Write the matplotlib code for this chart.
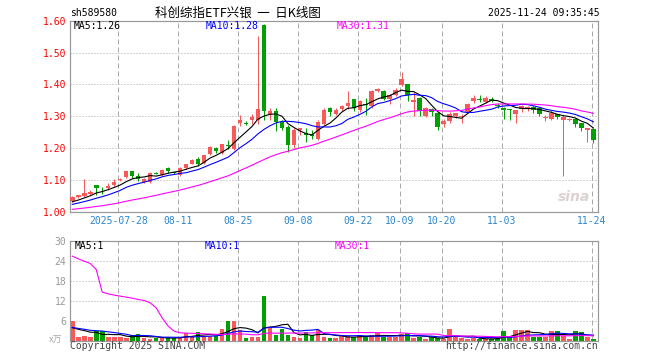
import numpy as np
import matplotlib
matplotlib.use('Agg')
import matplotlib.pyplot as plt

# ---------------- data ----------------
opens = [1.033, 1.046, 1.050, 1.055, 1.084, 1.070, 1.075, 1.084, 1.100, 1.110,
         1.128, 1.112, 1.094, 1.094, 1.122, 1.115, 1.138, 1.124, 1.116, 1.138,
         1.152, 1.165, 1.154, 1.183, 1.202, 1.185, 1.210, 1.199, 1.280, 1.278,
         1.290, 1.288, 1.588, 1.306, 1.317, 1.282, 1.267, 1.209, 1.256, 1.248,
         1.246, 1.230, 1.277, 1.327, 1.308, 1.324, 1.334, 1.353, 1.319, 1.338,
         1.331, 1.379, 1.379, 1.355, 1.366, 1.399, 1.400, 1.345, 1.357, 1.301,
         1.322, 1.312, 1.275, 1.284, 1.300, 1.297, 1.313, 1.348, 1.354, 1.345,
         1.355, 1.335, 1.326, 1.323, 1.306, 1.322, 1.322, 1.329, 1.326, 1.295,
         1.291, 1.306, 1.288, 1.289, 1.293, 1.279, 1.258, 1.259]
highs = [1.050, 1.054, 1.102, 1.068, 1.085, 1.079, 1.090, 1.102, 1.106, 1.128,
         1.130, 1.121, 1.108, 1.125, 1.124, 1.135, 1.142, 1.126, 1.140, 1.152,
         1.165, 1.172, 1.180, 1.206, 1.205, 1.214, 1.225, 1.272, 1.303, 1.284,
         1.308, 1.553, 1.590, 1.327, 1.327, 1.290, 1.272, 1.262, 1.265, 1.262,
         1.256, 1.290, 1.327, 1.330, 1.325, 1.336, 1.379, 1.355, 1.350, 1.357,
         1.383, 1.390, 1.384, 1.370, 1.390, 1.438, 1.402, 1.376, 1.360, 1.330,
         1.327, 1.315, 1.292, 1.315, 1.312, 1.308, 1.342, 1.366, 1.368, 1.363,
         1.362, 1.341, 1.328, 1.324, 1.320, 1.337, 1.332, 1.332, 1.330, 1.305,
         1.320, 1.308, 1.305, 1.294, 1.295, 1.280, 1.264, 1.260]
lows = [1.030, 1.044, 1.048, 1.052, 1.052, 1.056, 1.068, 1.078, 1.097, 1.108,
        1.108, 1.097, 1.090, 1.090, 1.118, 1.112, 1.121, 1.120, 1.112, 1.135,
        1.150, 1.145, 1.150, 1.180, 1.185, 1.183, 1.199, 1.195, 1.269, 1.272,
        1.277, 1.277, 1.288, 1.288, 1.253, 1.258, 1.188, 1.200, 1.242, 1.220,
        1.230, 1.226, 1.273, 1.300, 1.303, 1.318, 1.324, 1.316, 1.315, 1.303,
        1.327, 1.375, 1.350, 1.340, 1.363, 1.395, 1.348, 1.300, 1.300, 1.298,
        1.300, 1.258, 1.268, 1.280, 1.295, 1.280, 1.310, 1.343, 1.346, 1.343,
        1.344, 1.327, 1.293, 1.290, 1.279, 1.315, 1.318, 1.310, 1.300, 1.284,
        1.288, 1.292, 1.113, 1.284, 1.266, 1.253, 1.218, 1.216]
closes = [1.046, 1.052, 1.060, 1.064, 1.076, 1.068, 1.083, 1.094, 1.102, 1.128,
          1.112, 1.104, 1.104, 1.123, 1.120, 1.133, 1.128, 1.122, 1.137, 1.150,
          1.162, 1.152, 1.178, 1.204, 1.192, 1.212, 1.208, 1.269, 1.290, 1.276,
          1.298, 1.324, 1.317, 1.317, 1.282, 1.262, 1.209, 1.256, 1.263, 1.241,
          1.238, 1.282, 1.319, 1.313, 1.321, 1.332, 1.342, 1.326, 1.347, 1.336,
          1.378, 1.387, 1.355, 1.368, 1.384, 1.418, 1.366, 1.352, 1.317, 1.326,
          1.313, 1.267, 1.285, 1.308, 1.310, 1.301, 1.340, 1.357, 1.352, 1.357,
          1.348, 1.333, 1.319, 1.321, 1.319, 1.334, 1.329, 1.319, 1.306, 1.297,
          1.312, 1.298, 1.298, 1.291, 1.275, 1.263, 1.263, 1.225]
volumes = [6.0, 1.0, 1.5, 1.0, 3.0, 2.9, 1.2, 1.0, 1.0, 0.8,
           1.8, 2.0, 0.8, 0.4, 0.8, 0.8, 1.2, 0.8, 0.7, 2.3,
           1.5, 2.6, 1.5, 1.5, 1.5, 3.4, 5.8, 5.8, 3.2, 0.7,
           1.0, 1.0, 13.5, 4.2, 1.8, 3.4, 1.8, 1.0, 0.7, 2.6,
           1.8, 3.2, 1.2, 0.9, 0.7, 1.4, 1.4, 1.0, 1.4, 1.2,
           1.7, 2.4, 1.2, 1.2, 1.2, 2.0, 2.2, 0.7, 1.2, 0.5,
           1.0, 0.7, 0.4, 3.5, 1.4, 0.7, 0.5, 0.7, 0.5, 0.5,
           0.5, 0.7, 2.9, 1.4, 3.2, 3.2, 3.2, 1.2, 1.2, 1.0,
           2.9, 2.9, 1.4, 0.5, 2.9, 2.6, 1.0, 0.5]
# history before the visible window (implied by the moving-average lines)
pre_closes = [0.998, 0.996, 0.995, 0.997, 0.996, 0.997, 0.996, 0.998, 0.996, 0.997,
              1.000, 1.002, 1.001, 1.003, 1.004, 1.006, 1.007, 1.008, 1.009, 1.009,
              1.012, 1.014, 1.016, 1.018, 1.020, 1.025, 1.027, 1.030, 1.032]
pre_volumes = [25.0, 22.5, 22.0, 57.0, 207.0, 16.0, 13.0, 10.0, 9.8, 10.8,
               14.0, 9.8, 21.4, 45.8, 90.8, 76.2, 45.8, 15.7, 5.3, 3.0,
               4.1, 4.1, 4.1, 4.1, 4.1, 3.4, 3.4, 3.4, 3.3]
tick_idx = [8, 18, 28, 38, 48, 55, 62, 72, 87]
tick_labels = ['2025-07-28', '08-11', '08-25', '09-08', '09-22', '10-09', '10-20', '11-03', '11-24']
price_ticks = [1.00, 1.10, 1.20, 1.30, 1.40, 1.50, 1.60]
vol_ticks = [6, 12, 18, 24, 30]

# ---------------- styling ----------------
RED = '#f85a5a'
GREEN = '#00a000'
FRAME = '#999999'
GRID = '#aaaaaa'
DATEC = '#2a86d0'
MONO = 'DejaVu Sans Mono'
CJK = ['Noto Sans CJK SC', 'DejaVu Sans']
PX = 0.72

def moving_avg(pre, vals, n):
    full = np.array(pre + vals, dtype=float)
    off = len(pre)
    return np.array([full[off + k - n + 1: off + k + 1].mean() for k in range(len(vals))])

x = np.arange(len(closes))
o = np.array(opens); h = np.array(highs); l = np.array(lows); c = np.array(closes)
v = np.array(volumes)
up = c >= o
colors = np.where(up, RED, GREEN)

fig = plt.figure(figsize=(6.6, 3.6), dpi=100)
axp = fig.add_axes([70/660, 1 - 212/360, 528/660, (212 - 20.7)/360])
axv = fig.add_axes([70/660, 1 - 340.7/360, 528/660, 100/360])

xlim = (-0.38, 87.77)
for ax in (axp, axv):
    ax.set_xlim(*xlim)
    for s in ax.spines.values():
        s.set_color(FRAME)
        s.set_linewidth(1.2 * PX)
    ax.tick_params(length=0)
    for t in tick_idx:
        ax.axvline(t - 0.3, color=GRID, lw=PX, linestyle=(0, (5, 3)), zorder=0)

# price panel
axp.set_ylim(1.0, 1.6)
for y in price_ticks[1:-1]:
    axp.axhline(y, color=GRID, lw=PX, linestyle=(0, (1, 2)), zorder=0)
axp.vlines(x, l, h, colors=colors, lw=PX, zorder=2)
body_lo = np.minimum(o, c)
body_h = np.maximum(np.abs(c - o), 0.0025)
axp.bar(x, body_h, bottom=body_lo, width=0.76, color=colors, linewidth=0, zorder=3)

ma5 = moving_avg(pre_closes, closes, 5)
ma10 = moving_avg(pre_closes, closes, 10)
ma30 = moving_avg(pre_closes, closes, 30)
axp.plot(x, ma5, color='black', lw=0.8, zorder=4)
axp.plot(x, ma10, color='#0000ff', lw=0.8, zorder=4)
axp.plot(x, ma30, color='#ff00ff', lw=0.8, zorder=4)

axp.set_yticks(price_ticks)
axp.set_yticklabels([f'{t:.2f}' for t in price_ticks], color='red', fontsize=7, family=MONO)
axp.tick_params(axis='y', pad=2.5)
axp.set_xticks([t - 0.3 for t in tick_idx])
axp.set_xticklabels(tick_labels, color=DATEC, fontsize=7, family=MONO)
axp.tick_params(axis='x', pad=3)

tp = dict(fontsize=7, family=MONO, va='center', ha='left')
fig.text(74/660, 1 - 26/360, f'MA5:{ma5[-1]:.2f}', color='black', **tp)
fig.text(206/660, 1 - 26/360, f'MA10:{ma10[-1]:.2f}', color='#0000ff', **tp)
fig.text(337/660, 1 - 26/360, f'MA30:{ma30[-1]:.2f}', color='#ff00ff', **tp)
axp.text(0.985, 0.08, 'sina', transform=axp.transAxes, ha='right', va='center',
         fontsize=10, fontweight='bold', style='italic', color='#dcd2d2', zorder=1)

# volume panel
axv.set_ylim(0, 30)
for y in vol_ticks[:-1]:
    axv.axhline(y, color=GRID, lw=PX, linestyle=(0, (1, 2)), zorder=0)
axv.bar(x, v, width=0.78, color=colors, linewidth=0, zorder=2)
vma5 = moving_avg(pre_volumes, volumes, 5)
vma10 = moving_avg(pre_volumes, volumes, 10)
vma30 = moving_avg(pre_volumes, volumes, 30)
axv.plot(x, vma5, color='black', lw=0.8, zorder=3)
axv.plot(x, vma10, color='#0000ff', lw=0.8, zorder=3)
axv.plot(x, vma30, color='#ff00ff', lw=0.8, zorder=3)
axv.set_yticks(vol_ticks)
axv.set_yticklabels([str(t) for t in vol_ticks], color='#999999', fontsize=7, family=MONO)
axv.tick_params(axis='y', pad=2.5)
axv.set_xticks([])
fig.text(75/660, 1 - 246/360, f'MA5:{int(vma5[-1])}', color='black', **tp)
fig.text(205/660, 1 - 246/360, f'MA10:{int(vma10[-1])}', color='#0000ff', **tp)
fig.text(335/660, 1 - 246/360, f'MA30:{int(vma30[-1])}', color='#ff00ff', **tp)
fig.text(49/660, 1 - 340/360, 'x万', color='#aaaaaa', fontsize=6.5,
         family=CJK, va='center', ha='left')

# header & footer
fig.text(70/660, 1 - 13/360, 'sh589580', fontsize=7, family=MONO, va='center', ha='left')
fig.text(238/660, 1 - 13/360, '科创综指ETF兴银  一  日K线图', fontsize=9,
         family=CJK, va='center', ha='center')
fig.text(600/660, 1 - 13/360, '2025-11-24 09:35:45', fontsize=7, family=MONO, va='center', ha='right')
fig.text(70/660, 1 - 346/360, 'Copyright 2025 SINA.COM', fontsize=7, family=MONO,
         color='#444444', va='center', ha='left')
fig.text(598/660, 1 - 346/360, 'http://finance.sina.com.cn', fontsize=7, family=MONO,
         color='#444444', va='center', ha='right')

fig.savefig('out.png', dpi=100)
